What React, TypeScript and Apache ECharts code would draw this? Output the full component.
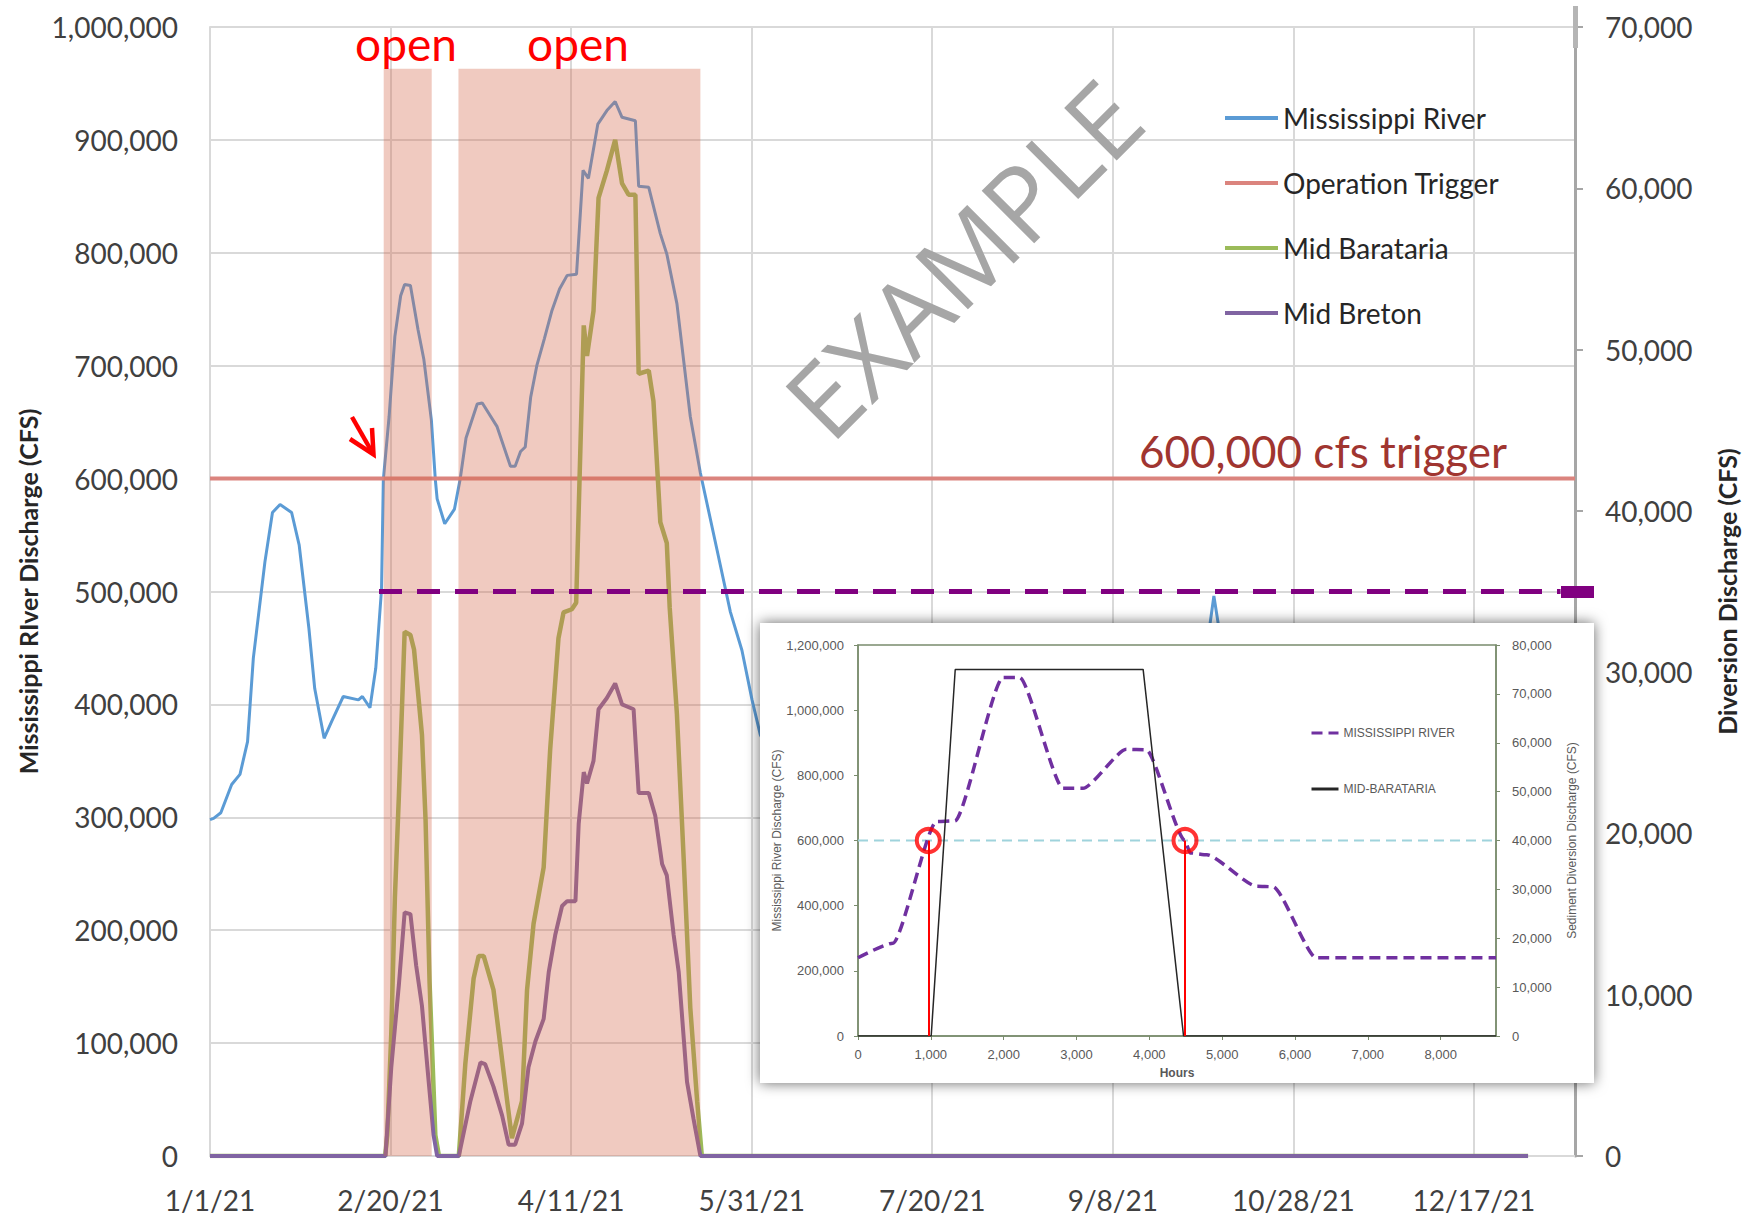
import React, { useEffect, useRef } from "react";
import * as echarts from "echarts";

// ---------------- Main chart data (x = days since 1/1/21) ----------------
const riverFlow: [number, number][] = [
  [0, 298000], [1, 299000], [3, 304000], [6, 329000], [8.3, 338000], [10.4, 367000], [12, 441000],
  [15.2, 526000], [17.3, 570000], [19.4, 577000], [22.6, 570000], [24.7, 541000], [27.4, 467000],
  [29, 414000], [31.6, 370000], [33.7, 385000], [36.9, 407000], [41.1, 404000], [42.2, 407000],
  [44.3, 397000], [45.9, 432000], [47.5, 502000], [48, 599000], [49.6, 655000], [51.2, 726000],
  [52.8, 762000], [53.9, 772000], [55.5, 771000], [57.6, 732000], [59.2, 706000], [61.3, 652000],
  [62.4, 599000], [62.9, 582000], [65, 560000], [67.7, 573000], [69.3, 600000], [70.9, 636000],
  [74, 666000], [75.4, 667000], [79.5, 646000], [83.2, 611000], [84.5, 611000], [86, 624000],
  [87.3, 628000], [88.8, 672000], [90.5, 700000], [92.6, 724000], [94.7, 749000], [96.8, 768000],
  [98.9, 780000], [101.5, 781000], [103.3, 873000], [104.8, 866000], [107.4, 914000], [109.9, 926000],
  [112.2, 934000], [114.1, 920000], [117.8, 917000], [118.7, 859000], [121.5, 858000], [124.7, 817000],
  [126.5, 799000], [129.3, 755000], [133, 655000], [135.8, 605000], [140.4, 537000], [144.1, 482000],
  [147.3, 448000], [150.1, 404000], [152.4, 373000], [156, 350000], [162, 325000], [172, 298000],
  [185, 272000], [200, 245000], [215, 225000], [230, 205000], [245, 195000], [258, 205000],
  [268, 245000], [273, 330000], [276, 450000], [278, 496000], [280, 455000], [283, 340000],
  [290, 275000], [305, 245000], [320, 232000], [335, 250000], [350, 280000], [365, 300000],
];
const triggerFlow: [number, number][] = [[0, 600000], [378, 600000]];
const baratariaFlow: [number, number][] = [
  [0, 0], [48.5, 0], [49.1, 1300], [50.2, 7600], [51.2, 16000], [52.3, 22300], [53.9, 32500],
  [55.5, 32300], [56.5, 31400], [58.7, 26100], [59.7, 20800], [60.8, 10800], [62.4, 1300], [63.4, 0],
  [68.9, 0], [70.7, 5700], [73, 11000], [74.4, 12400], [75.8, 12400], [78.5, 10300], [82.3, 3400],
  [83.6, 1100], [86.4, 3400], [87.8, 10300], [89.6, 14400], [92.4, 17900], [94.2, 25200], [96.5, 32100],
  [97.9, 33700], [100.2, 33900], [101.4, 34300], [103.5, 51500], [104.4, 49600], [106.2, 52400],
  [107.6, 59400], [109.9, 61100], [112.2, 63000], [114.1, 60300], [115.9, 59600], [117.8, 59600],
  [118.7, 48500], [121.5, 48700], [122.8, 46800], [124.7, 39300], [126.5, 38000], [127.3, 34000],
  [129.3, 27400], [131.2, 18300], [133, 9200], [134.9, 3400], [136.2, 0], [365, 0],
];
const bretonFlow: [number, number][] = [
  [0, 0], [48.6, 0], [50.2, 5500], [52.3, 10600], [53.9, 15100], [55.5, 15000], [57.1, 11800],
  [58.7, 9300], [60.2, 5500], [61.9, 1300], [62.9, 0], [68.9, 0], [72.1, 3400], [74.9, 5800],
  [76.2, 5700], [78.5, 4300], [80.9, 2500], [82.7, 700], [84.5, 700], [86.4, 2000], [88.2, 5500],
  [90.1, 7100], [92.4, 8500], [93.8, 11400], [95.6, 13700], [97.5, 15500], [98.9, 15800],
  [101.2, 15800], [102.1, 20600], [103.5, 23800], [104.4, 23100], [106.2, 24500], [107.6, 27700],
  [109.9, 28400], [112.2, 29300], [114.1, 28000], [117.3, 27700], [118.7, 22500], [121.5, 22500],
  [123.3, 21100], [125.2, 18100], [126.5, 17400], [128.4, 13700], [129.8, 11400], [132.1, 4600],
  [133.9, 2300], [135.8, 0], [365, 0],
];
const openPeriods: [number, number][] = [[48.1, 61.4], [68.8, 135.8]];
const openTop = 963000;
const bretonMaxFlow = 35000;
const bretonMaxSpan: [number, number] = [46.8, 374];

// ---------------- Inset data (x = hours) ----------------
const insetRiver: [number, number][] = [
  [0, 240000], [480, 285000], [1076, 658000], [1330, 660000], [1990, 1100000], [2220, 1100000],
  [2815, 760000], [3090, 760000], [3685, 880000], [3960, 878000], [4490, 600000], [4560, 562000],
  [4790, 556000], [5470, 460000], [5700, 458000], [6290, 240000], [8760, 240000],
];
const insetBarataria: [number, number][] = [
  [0, 0], [1005, 0], [1335, 75000], [3915, 75000], [4470, 0], [8760, 0],
];
const insetTrigger = 600000;
const insetCrossHours = [965, 4490];

const BASE = Date.UTC(2021, 0, 1);
const fmtDate = (v: number) => {
  if (Math.abs(v % 50) > 1e-6) return "";
  const d = new Date(BASE + v * 86400000);
  return `${d.getUTCMonth() + 1}/${d.getUTCDate()}/${String(d.getUTCFullYear()).slice(2)}`;
};
const fmtNum = (v: number) => Math.round(v).toLocaleString("en-US");

const MAIN_FONT = "Lato";
const INSET_FONT = "Liberation Sans";
const GRID_C = "#D9D9D9";
const INSET_AX = "#7A8C6E";

export default function App() {
  const ref = useRef<HTMLDivElement>(null);
  useEffect(() => {
    if (!ref.current) return;
    const chart = echarts.init(ref.current, null, { renderer: "svg" });
    const option: any = {
      animation: false,
      backgroundColor: "#ffffff",
      textStyle: { fontFamily: MAIN_FONT },
      grid: [
        { left: 210, right: 173, top: 27, bottom: 69, outerBoundsMode: "none", containLabel: false },
        {
          left: 858, top: 645, width: 638, height: 391, show: true, borderColor: INSET_AX, borderWidth: 1.5,
          backgroundColor: "transparent", z: 25, outerBoundsMode: "none", containLabel: false,
        },
      ],
      legend: [
        {
          data: ["Mississippi River", "Operation Trigger", "Mid Barataria", "Mid Breton"],
          orient: "vertical", left: 1223, top: 103, padding: 0, itemWidth: 53, itemHeight: 14, itemGap: 35,
          itemStyle: { opacity: 0 },
          lineStyle: { width: 4 },
          textStyle: { fontFamily: MAIN_FONT, fontSize: 28, color: "#262626", lineHeight: 30 },
          selectedMode: false,
        },
        {
          data: ["MISSISSIPPI RIVER", "MID-BARATARIA"],
          orient: "vertical", left: 1310, top: 726, padding: 0, itemWidth: 27, itemHeight: 10, itemGap: 42, z: 30,
          itemStyle: { opacity: 0 },
          lineStyle: { width: 3 },
          textStyle: { fontFamily: INSET_FONT, fontSize: 12, color: "#595959", lineHeight: 14 },
          selectedMode: false,
        },
      ],
      xAxis: [
        {
          type: "value", gridIndex: 0, min: 0, max: 378, interval: 50,
          axisLine: { show: true, lineStyle: { color: GRID_C, width: 2 } },
          axisTick: { show: false },
          splitLine: { show: true, lineStyle: { color: GRID_C, width: 2 } },
          axisLabel: { formatter: fmtDate, fontSize: 28, color: "#404040", margin: 30, fontFamily: MAIN_FONT, showMaxLabel: false },
        },
        {
          type: "value", gridIndex: 1, min: 0, max: 8760, interval: 1000, z: 25,
          axisLine: { show: true, lineStyle: { color: INSET_AX, width: 1.5 } },
          axisTick: { show: true, length: 4, lineStyle: { color: INSET_AX } },
          splitLine: { show: false },
          axisLabel: {
            formatter: (v: number) => (v % 1000 === 0 ? fmtNum(v) : ""),
            fontSize: 13, color: "#595959", margin: 12, fontFamily: INSET_FONT, showMaxLabel: false,
          },
          name: "Hours", nameLocation: "middle", nameGap: 31, nameMoveOverlap: false,
          nameTextStyle: { fontSize: 12, fontWeight: "bold", color: "#595959", fontFamily: INSET_FONT },
        },
      ],
      yAxis: [
        {
          type: "value", gridIndex: 0, position: "left", min: 0, max: 1000000, interval: 100000,
          axisLine: { show: true, lineStyle: { color: GRID_C, width: 2 } },
          axisTick: { show: false },
          splitLine: { show: true, lineStyle: { color: GRID_C, width: 2 } },
          axisLabel: { formatter: fmtNum, fontSize: 28, color: "#404040", margin: 32, fontFamily: MAIN_FONT },
          name: "Mississippi RIver Discharge (CFS)", nameLocation: "middle", nameGap: 170, nameRotate: 90,
          nameMoveOverlap: false,
          nameTextStyle: { fontSize: 25, fontWeight: "bold", color: "#262626", fontFamily: MAIN_FONT },
        },
        {
          type: "value", gridIndex: 0, position: "right", min: 0, max: 70000, interval: 10000,
          axisLine: { show: true, lineStyle: { color: "#A6A6A6", width: 3 } },
          axisTick: { show: true, inside: false, length: 8, lineStyle: { color: "#A6A6A6", width: 2 } },
          splitLine: { show: false },
          axisLabel: { formatter: fmtNum, fontSize: 28, color: "#404040", margin: 30, fontFamily: MAIN_FONT },
          name: "Diversion Discharge (CFS)", nameLocation: "middle", nameGap: 139, nameRotate: 90,
          nameMoveOverlap: false,
          nameTextStyle: { fontSize: 25, fontWeight: "bold", color: "#262626", fontFamily: MAIN_FONT },
        },
        {
          type: "value", gridIndex: 1, position: "left", min: 0, max: 1200000, interval: 200000, z: 25,
          axisLine: { show: true, lineStyle: { color: INSET_AX, width: 1.5 } },
          axisTick: { show: true, length: 4, lineStyle: { color: INSET_AX } },
          splitLine: { show: false },
          axisLabel: { formatter: fmtNum, fontSize: 13, color: "#595959", margin: 14, fontFamily: INSET_FONT },
          name: "Mississippi River Discharge (CFS)", nameLocation: "middle", nameGap: 75, nameRotate: 90,
          nameMoveOverlap: false,
          nameTextStyle: { fontSize: 12, color: "#595959", fontFamily: INSET_FONT },
        },
        {
          type: "value", gridIndex: 1, position: "right", min: 0, max: 80000, interval: 10000, z: 25,
          axisLine: { show: true, lineStyle: { color: INSET_AX, width: 1.5 } },
          axisTick: { show: true, length: 4, lineStyle: { color: INSET_AX } },
          splitLine: { show: false },
          axisLabel: { formatter: fmtNum, fontSize: 13, color: "#595959", margin: 16, fontFamily: INSET_FONT },
          name: "Sediment Diversion Discharge (CFS)", nameLocation: "middle", nameGap: 70, nameRotate: 90,
          nameMoveOverlap: false,
          nameTextStyle: { fontSize: 12, color: "#595959", fontFamily: INSET_FONT },
        },
      ],
      series: [
        {
          name: "Mississippi River", type: "line", xAxisIndex: 0, yAxisIndex: 0, data: riverFlow,
          symbol: "none", lineStyle: { color: "#5B9BD5", width: 3 }, itemStyle: { color: "#5B9BD5" }, z: 2,
        },
        {
          name: "Operation Trigger", type: "line", xAxisIndex: 0, yAxisIndex: 0, data: triggerFlow,
          symbol: "none", lineStyle: { color: "#DB847E", width: 4 }, itemStyle: { color: "#DB847E" }, z: 2,
        },
        {
          name: "Mid Barataria", type: "line", xAxisIndex: 0, yAxisIndex: 1, data: baratariaFlow,
          symbol: "none", lineStyle: { color: "#9BBB59", width: 4.5 }, itemStyle: { color: "#9BBB59" }, z: 2,
        },
        {
          name: "Mid Breton", type: "line", xAxisIndex: 0, yAxisIndex: 1, data: bretonFlow,
          symbol: "none", lineStyle: { color: "#8064A2", width: 4 }, itemStyle: { color: "#8064A2" }, z: 3,
          markLine: {
            silent: true, symbol: "none", z: 8, label: { show: false },
            lineStyle: { color: "#800080", width: 5, type: [23, 15] },
            data: [[{ coord: [bretonMaxSpan[0], bretonMaxFlow] }, { coord: [bretonMaxSpan[1], bretonMaxFlow] }]],
          },
        },
        {
          name: "Open periods", type: "custom", xAxisIndex: 0, yAxisIndex: 0, z: 4, silent: true,
          data: openPeriods.map(([a, b]) => [a, b, openTop]),
          encode: { x: [0, 1], y: 2 },
          renderItem: (params: any, api: any) => {
            const s = api.coord([api.value(0), api.value(2)]);
            const e = api.coord([api.value(1), 0]);
            return {
              type: "rect",
              shape: { x: s[0], y: s[1], width: e[0] - s[0], height: e[1] - s[1] },
              style: { fill: "rgba(212,103,74,0.35)" },
            };
          },
        },
        // ---- inset ----
        {
          name: "insetTrigger", type: "line", xAxisIndex: 1, yAxisIndex: 2, z: 29, symbol: "none",
          data: [[0, insetTrigger], [8760, insetTrigger]],
          lineStyle: { color: "#9FD3DC", width: 2, type: [10, 6] },
          markLine: {
            silent: true, symbol: "none", z: 31, label: { show: false },
            lineStyle: { color: "#FF0000", width: 2, type: "solid" },
            data: insetCrossHours.map((h) => [{ coord: [h, 0] }, { coord: [h, insetTrigger] }]),
          },
        },
        {
          name: "MISSISSIPPI RIVER", type: "line", xAxisIndex: 1, yAxisIndex: 2, z: 30, symbol: "none",
          data: insetRiver, smooth: 0.2, smoothMonotone: "x",
          lineStyle: { color: "#7030A0", width: 3.5, type: [11, 6] }, itemStyle: { color: "#7030A0" },
        },
        {
          name: "MID-BARATARIA", type: "line", xAxisIndex: 1, yAxisIndex: 3, z: 30, symbol: "none",
          data: insetBarataria,
          lineStyle: { color: "#262626", width: 1.5 }, itemStyle: { color: "#262626" },
        },
        {
          name: "crossings", type: "scatter", xAxisIndex: 1, yAxisIndex: 2, z: 32, silent: true,
          data: insetCrossHours.map((h) => [h, insetTrigger]),
          symbol: "circle", symbolSize: 23,
          itemStyle: { color: "rgba(0,0,0,0)", borderColor: "#FF0000", borderWidth: 4 },
        },
      ],
      graphic: {
        elements: [
          {
            type: "rect", z: 20, silent: true,
            shape: { x: 760, y: 623, width: 834, height: 460 },
            style: { fill: "#ffffff", shadowBlur: 14, shadowColor: "rgba(0,0,0,0.6)", shadowOffsetX: 0, shadowOffsetY: 0 },
          },
          {
            type: "text", z: 8, x: 406, y: 43,
            style: { text: "open", fill: "#FF0000", font: `46px ${MAIN_FONT}`, align: "center", verticalAlign: "middle", textAlign: "center", textVerticalAlign: "middle" },
          },
          {
            type: "text", z: 8, x: 578, y: 43,
            style: { text: "open", fill: "#FF0000", font: `46px ${MAIN_FONT}`, align: "center", verticalAlign: "middle", textAlign: "center", textVerticalAlign: "middle" },
          },
          {
            type: "text", z: 8, x: 1139, y: 451,
            style: { text: "600,000 cfs trigger", fill: "#A03530", font: `44px ${MAIN_FONT}`, align: "left", verticalAlign: "middle", textAlign: "left", textVerticalAlign: "middle" },
          },
          {
            type: "text", z: 8, x: 962, y: 258, rotation: Math.PI / 4,
            style: { text: "EXAMPLE", fill: "#A6A6A6", font: `104px "Open Sans"`, align: "center", verticalAlign: "middle", textAlign: "center", textVerticalAlign: "middle" },
          },
          {
            type: "polyline", z: 8,
            shape: { points: [[352, 417], [372, 452]] },
            style: { stroke: "#FF0000", lineWidth: 4.5, fill: "none" },
          },
          {
            type: "polyline", z: 8,
            shape: { points: [[350, 439], [373.5, 454.5], [372, 428]] },
            style: { stroke: "#FF0000", lineWidth: 4.5, fill: "none", lineJoin: "miter" },
          },
          {
            type: "rect", z: 8,
            shape: { x: 1561, y: 586, width: 33, height: 12 },
            style: { fill: "#800080" },
          },
          {
            type: "rect", z: 8,
            shape: { x: 1573, y: 6, width: 5, height: 42 },
            style: { fill: "#B5B5B5" },
          },
        ],
      },
    };
    chart.setOption(option);
    return () => chart.dispose();
  }, []);
  return (
    <div
      ref={ref}
      style={{ position: "fixed", left: 0, top: 0, width: 1748, height: 1225, background: "#ffffff" }}
    />
  );
}
